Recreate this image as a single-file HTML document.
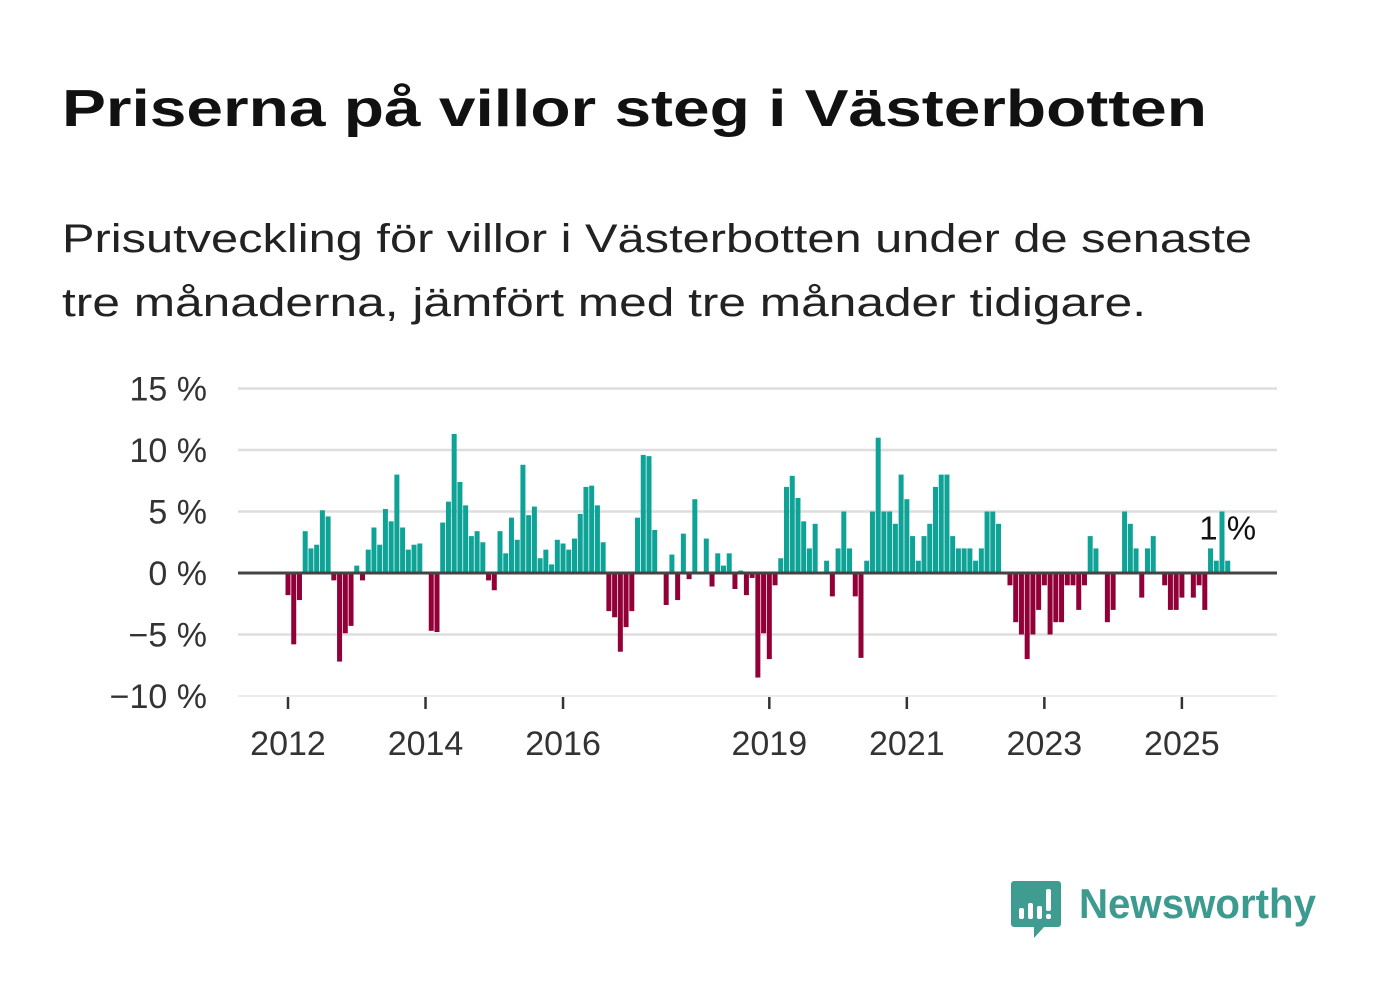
<!DOCTYPE html>
<html><head><meta charset="utf-8"><style>
html,body{margin:0;padding:0;background:#fff;width:1382px;height:999px;overflow:hidden}
svg{display:block;font-family:"Liberation Sans",sans-serif}
</style></head><body>
<svg id="chart" width="1382" height="999" viewBox="0 0 1382 999">
<text x="62" y="126" font-size="52" font-weight="bold" fill="#111" textLength="1145" lengthAdjust="spacingAndGlyphs">Priserna på villor steg i Västerbotten</text>
<text x="62" y="252" font-size="40" fill="#222" textLength="1190" lengthAdjust="spacingAndGlyphs">Prisutveckling för villor i Västerbotten under de senaste</text>
<text x="62" y="316" font-size="40" fill="#222" textLength="1084" lengthAdjust="spacingAndGlyphs">tre månaderna, jämfört med tre månader tidigare.</text>
<g id="grid"></g>
<g id="yaxis"></g>
<g id="bars"></g>
<line x1="238" x2="1277" y1="573" y2="573" stroke="#444" stroke-width="3"/>
<g id="xaxis"></g>
<g id="label"></g>
<g>
<path d="M1014 881 h44 a3 3 0 0 1 3 3 v40 a3 3 0 0 1 -3 3 h-14 l-10 11 v-11 h-20 a3 3 0 0 1 -3 -3 v-40 a3 3 0 0 1 3 -3z" fill="#3f9c91"/>
<rect x="1019" y="908" width="5" height="11" rx="2" fill="#fff"/>
<rect x="1028" y="903" width="5" height="16" rx="2" fill="#fff"/>
<rect x="1037" y="906" width="5" height="13" rx="2" fill="#fff"/>
<rect x="1046" y="889" width="5" height="22" rx="2" fill="#fff"/>
<rect x="1046" y="914" width="5" height="5" rx="2" fill="#fff"/>
<text x="1079" y="918" font-size="42" font-weight="bold" fill="#3d9a8f" textLength="237" lengthAdjust="spacingAndGlyphs">Newsworthy</text>
</g>
</svg>
<script>
const values = [-1.8,-5.8,-2.2,3.4,2.0,2.3,5.1,4.6,-0.6,-7.2,-4.9,-4.3,0.6,-0.6,1.9,3.7,2.3,5.2,4.2,8.0,3.7,1.9,2.3,2.4,
0,-4.7,-4.8,4.1,5.8,11.3,7.4,5.5,3.0,3.4,2.5,-0.6,-1.4,3.4,1.6,4.5,2.7,8.8,4.7,5.4,1.2,1.9,0.7,2.7,2.4,1.9,2.8,4.8,7.0,7.1,5.5,2.5,
-3.1,-3.6,-6.4,-4.4,-3.1,4.5,9.6,9.5,3.5,0,-2.6,1.5,-2.2,3.2,-0.5,6.0,0,2.8,-1.1,1.6,0.6,1.6,-1.3,0.2,-1.8,-0.4,-8.5,-4.9,-7.0,-1.0,
1.2,7.0,7.9,6.1,4.2,2.0,4.0,0,1.0,-1.9,2.0,5.0,2.0,-1.9,-6.9,1.0,5.0,11.0,5.0,5.0,4.0,8.0,6.0,3.0,1.0,3.0,4.0,7.0,8.0,8.0,
3.0,2.0,2.0,2.0,1.0,2.0,5.0,5.0,4.0,0,-1.0,-4.0,-5.0,-7.0,-5.0,-3.0,-1.0,-5.0,-4.0,-4.0,-1.0,-1.0,-3.0,-1.0,3.0,2.0,0,-4.0,-3.0,0,
5.0,4.0,2.0,-2.0,2.0,3.0,0,-1.0,-3.0,-3.0,-2.0,0,-2.0,-1.0,-3.0,2.0,1.0,5.0,1.0];
const startYear = 2012;
const yTicks = [15,10,5,0,-5,-10];
const yTickLabels = ["15 %","10 %","5 %","0 %","\u22125 %","\u221210 %"];
const xTickYears = [2012,2014,2016,2019,2021,2023,2025];
const lastLabel = "1 %";

const NS="http://www.w3.org/2000/svg";
const y = v => 573 - v*12.3;
const x = i => 288 + i*5.73;
const xYear = yr => x((yr-startYear)*12);
function mk(tag, attrs, parent){const e=document.createElementNS(NS,tag);for(const k in attrs)e.setAttribute(k,attrs[k]);parent.appendChild(e);return e;}
const grid=document.getElementById('grid'), ya=document.getElementById('yaxis'), bars=document.getElementById('bars'), xa=document.getElementById('xaxis'), lab=document.getElementById('label');
yTicks.forEach((t,k)=>{
  if(t!==0){const l=mk('line',{x1:238,x2:1277,y1:y(t),y2:y(t),stroke:t===-10?'#e6e6e6':'#dedede','stroke-width':t===-10?1.5:2.5},grid);
  
  }
  const tx=mk('text',{x:207,y:y(t)+12,'text-anchor':'end','font-size':34,fill:'#333'},ya);
  tx.textContent=yTickLabels[k];
  
  
});
values.forEach((v,i)=>{
  if(v===0)return;
  const r=mk('rect',{x:x(i)-2.5,width:5,y:v>0?y(v):573,height:Math.abs(v)*12.3,fill:v>0?'#0ea396':'#920038'},bars);
  
  
});
xTickYears.forEach(yr=>{
  const l=mk('line',{x1:xYear(yr),x2:xYear(yr),y1:697,y2:709,stroke:'#333','stroke-width':2.5},xa);
  
  
  const t=mk('text',{x:xYear(yr),y:755,'text-anchor':'middle','font-size':34,fill:'#333'},xa);
  t.textContent=yr;
  
  
});
const li=values.length-1;
const lt=mk('text',{x:x(li),y:y(values[li])-21,'text-anchor':'middle','font-size':33,fill:'#111',stroke:'#fff','stroke-width':6,'paint-order':'stroke'},lab);
lt.textContent=lastLabel;


</script>
</body></html>
